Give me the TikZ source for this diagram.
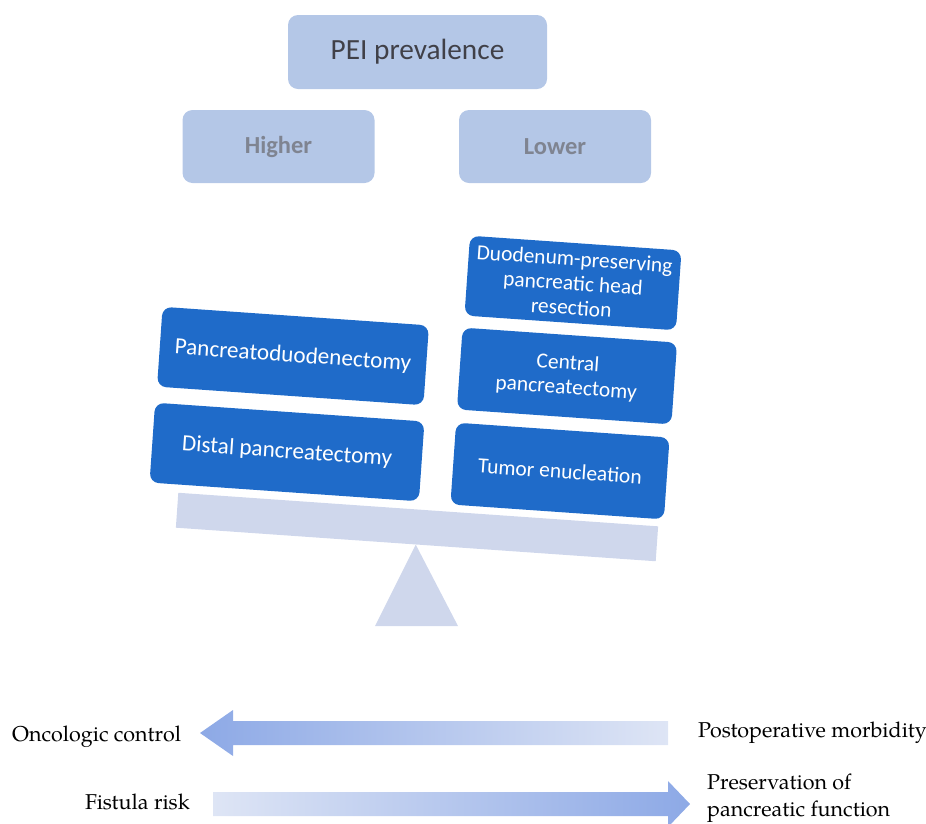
\documentclass[tikz,border=0pt]{standalone}
\usepackage{fontspec}
\setmainfont{TeX Gyre Pagella}
\newfontfamily\boxfont{Carlito}
\definecolor{boxblue}{HTML}{1F6BC9}
\definecolor{paleblue}{HTML}{B4C7E7}
\definecolor{beamcol}{HTML}{CFD7EC}
\definecolor{arrdark}{HTML}{8DA9E6}
\definecolor{arrlight}{HTML}{DEE5F5}
\definecolor{txtdark}{HTML}{404048}
\definecolor{txtgray}{HTML}{7F8491}
\begin{document}
\begin{tikzpicture}[x=1pt,y=-1pt,
  proc/.style={rectangle, rounded corners=9pt, fill=boxblue, text=white,
    font=\boxfont\fontsize{21.5}{24.5}\selectfont, align=center, rotate=-4, inner sep=3pt},
  bigproc/.style={proc, font=\boxfont\fontsize{23.2}{26}\selectfont},
  headbox/.style={rectangle, rounded corners=10pt, fill=paleblue, align=center, inner sep=0pt},
  subhead/.style={headbox, minimum width=192pt, minimum height=73pt, text=txtgray,
    font=\boxfont\bfseries\fontsize{24.5}{28}\selectfont},
  lab/.style={font=\fontsize{21.5}{27}\selectfont, text=black, inner sep=0pt, align=left}]
\useasboundingbox (0,0) rectangle (926,823);

% top boxes
\node[headbox, minimum width=259pt, minimum height=74pt, text=txtdark,
  font=\boxfont\fontsize{29.3}{33}\selectfont] (pei) at (417.5,52) {PEI prevalence};
\node[subhead] (higher) at (278.5,146.5) {Higher};
\node[subhead] (lower) at (555,146.5) {Lower};

% balance
\node[rectangle, fill=beamcol, minimum width=481pt, minimum height=35pt,
  rotate=-4, inner sep=0pt] (beam) at (417,527) {};
\fill[beamcol] (375,626) -- (beam.south) -- (458,626) -- cycle;

% procedure boxes
\node[bigproc, minimum width=267pt, minimum height=80pt] (pd) at (293,356) {Pancreatoduodenectomy};
\node[bigproc, minimum width=270pt, minimum height=80pt] (dp) at (287,452) {Distal pancreatectomy};
\node[proc, minimum width=212pt, minimum height=80pt] (dppr) at (573,283) {Duodenum-preserving\\pancreatic head\\resection};
\node[proc, minimum width=215pt, minimum height=82pt] (cp) at (567,376) {Central\\pancreatectomy};
\node[proc, minimum width=214pt, minimum height=82pt] (te) at (560,471) {Tumor enucleation};

% arrows
\shade[left color=arrdark, right color=arrlight]
  (200,733) -- (233,710) -- (233,721) -- (668,721) -- (668,745) -- (233,745) -- (233,756) -- cycle;
\shade[left color=arrlight, right color=arrdark]
  (213,792) -- (668,792) -- (668,781) -- (690,804) -- (668,827) -- (668,816) -- (213,816) -- cycle;

% labels
\node[lab, anchor=west] (onc) at (12,737) {Oncologic control};
\node[lab, anchor=west] (post) at (698,733) {Postoperative morbidity};
\node[lab, anchor=east] (fist) at (190,802) {Fistula risk};
\node[lab, anchor=west] (pres) at (707,798) {Preservation of\\pancreatic function};
\end{tikzpicture}
\end{document}
